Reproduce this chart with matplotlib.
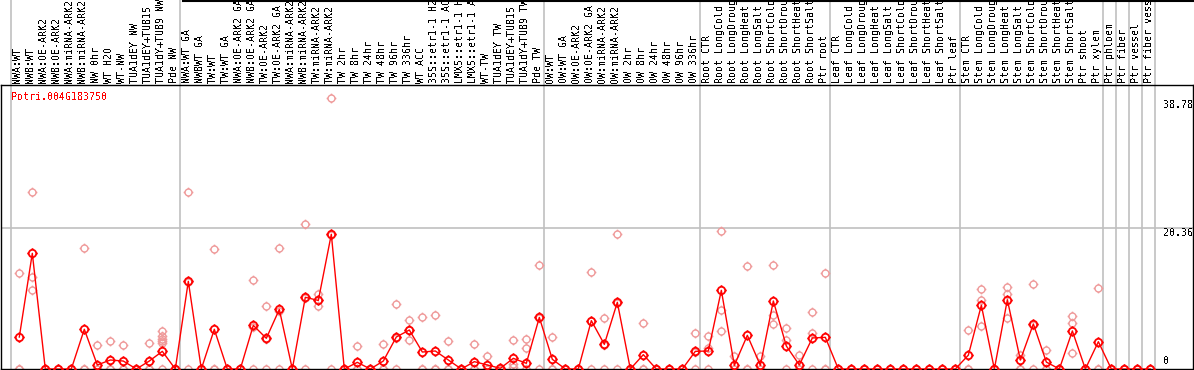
import numpy as np
import matplotlib
matplotlib.use("Agg")
import matplotlib.pyplot as plt
from matplotlib.path import Path
import matplotlib.transforms as mtransforms

plt.rcParams['font.family'] = ['DejaVu Sans Mono']
plt.rcParams['text.antialiased'] = False

gene = "Potri.004G183750"

labels = ["NWA:WT", "NWB:WT", "NWA:OE-ARK2", "NWB:OE-ARK2", "NWA:miRNA-ARK2", "NWB:miRNA-ARK2",
          "NW 0hr", "WT H2O", "WT-NW", "TUA1dEY NW", "TUA1dEY+TUB15", "TUA1dY+TUB9 NW", "Pde NW",
          "NWA:WT GA", "NWBWT GA", "TW:WT", "TW:WT GA", "NWA:OE-ARK2 GA", "NWB:OE-ARK2 GA",
          "TW:OE-ARK2", "TW:OE-ARK2 GA", "NWA:miRNA-ARK2", "NWB:miRNA-ARK2", "TW:miRNA-ARK2",
          "TW:miRNA-ARK2", "TW 2hr", "TW 8hr", "TW 24hr", "TW 48hr", "TW 96hr", "TW 336hr",
          "WT ACC", "35S::etr1-1 H2", "35S::etr1-1 AC", "LMX5::etr1-1 H", "LMX5::etr1-1 A",
          "WT-TW", "TUA1dEY TW", "TUA1dEY+TUB15", "TUA1dY+TUB9 TW", "Pde TW",
          "OW:WT", "OW:WT GA", "OW:OE-ARK2", "OW:OE-ARK2 GA", "OW:miRNA-ARK2", "OW:miRNA-ARK2",
          "OW 2hr", "OW 8hr", "OW 24hr", "OW 48hr", "OW 96hr", "OW 336hr",
          "Root CTR", "Root LongCold", "Root LongDroug", "Root LongHeat", "Root LongSalt",
          "Root ShortCold", "Root ShortDrou", "Root ShortHeat", "Root ShortSalt", "Ptr root",
          "Leaf CTR", "Leaf LongCold", "Leaf LongDroug", "Leaf LongHeat", "Leaf LongSalt",
          "Leaf ShortCold", "Leaf ShortDrou", "Leaf ShortHeat", "Leaf ShortSalt", "Ptr leaf",
          "Stem CTR", "Stem LongCold", "Stem LongDroug", "Stem LongHeat", "Stem LongSalt",
          "Stem ShortCold", "Stem ShortDrou", "Stem ShortHeat", "Stem ShortSalt", "Ptr shoot",
          "Ptr xylem", "Ptr phloem", "Ptr fiber", "Ptr vessel", "Ptr fiber vess"]

# mean expression per sample
means = [4.62, 16.7, 0, 0, 0, 5.73, 0.58, 1.3, 1.15, 0, 1.15, 2.55, 0,
         12.66, 0, 5.73, 0, 0, 6.3, 4.43, 8.6, 0, 10.35, 9.9, 19.45, 0, 0.96, 0,
         1.15, 4.62, 5.63, 2.45, 2.6, 1.3, 0, 1.06, 0.58, 0.1, 1.54, 0.82, 7.45,
         1.4, 0, 0, 6.98, 3.56, 9.63, 0, 2.07, 0, 0, 0, 2.55,
         2.6, 11.36, 0.53, 4.86, 0.53, 9.82, 3.32, 0.58, 4.48, 4.57,
         0, 0, 0, 0, 0, 0, 0, 0, 0, 0,
         2.0, 9.2, 0, 10.0, 1.3, 6.5, 1.0, 0, 5.5, 0,
         3.94, 0, 0, 0, 0]

# replicate values per sample
reps = [[13.8, 0, 0], [25.5, 13.3, 11.4], [0, 0, 0], [0, 0, 0], [0, 0, 0], [17.4, 0, 0],
        [3.4, 0, 0], [4.04, 0, 0], [3.4, 0, 0], [0, 0, 0], [3.7, 0, 0],
        [5.5, 4.8, 4.4, 4.0, 3.7, 0], [0, 0, 0],
        [25.5, 12.5, 0], [0, 0, 0], [17.3, 0, 0], [0, 0, 0], [0, 0, 0], [12.8, 6.0, 0],
        [9.05, 4.3, 0], [17.4, 8.4, 0], [0, 0, 0], [20.9, 10.2, 0], [10.8, 9.05, 9.9],
        [39.1, 19.3, 0], [0, 0, 0], [3.27, 0, 0], [0, 0, 0], [3.56, 0, 0], [9.4, 4.5, 0],
        [7.07, 4.19, 5.6], [7.45, 0, 0], [7.75, 0, 0], [4.04, 0, 0], [0, 0, 0], [3.56, 0, 0],
        [1.83, 0, 0], [0, 0, 0], [4.19, 0.67, 0.3], [4.29, 2.99, 0], [14.97, 7.4, 0],
        [4.62, 0, 0], [0, 0, 0], [0, 0, 0], [13.96, 7.0, 0], [7.3, 3.4, 0], [19.45, 9.5, 0],
        [0, 0, 0], [6.6, 0, 0], [0, 0, 0], [0, 0, 0], [0, 0, 0], [5.15, 2.5, 0],
        [4.72, 3.08, 0], [19.88, 8.47, 5.49], [1.88, 0, 0], [14.8, 0, 0], [1.88, 0, 0],
        [15.0, 7.75, 6.5], [5.87, 4.14, 0], [1.97, 0, 0], [8.18, 5.2, 0], [13.8, 0, 0],
        [0, 0, 0], [0, 0, 0], [0, 0, 0], [0, 0, 0], [0, 0, 0],
        [0, 0, 0], [0, 0, 0], [0, 0, 0], [0, 0, 0], [0, 0, 0],
        [5.6, 0, 0], [11.5, 10.0, 6.2], [0, 0, 0], [11.8, 10.8, 7.3], [2.0, 0, 0],
        [12.2, 6.4, 0], [2.7, 0, 0], [0, 0, 0], [7.6, 6.6, 2.3], [0, 0, 0],
        [11.65, 0, 0], [0, 0, 0], [0, 0, 0], [0, 0, 0], [0, 0, 0]]

group_starts = [0, 13, 41, 53, 63, 73, 84, 85, 86, 87, 88]
yticks = [38.78, 20.36]

# circle marker with small ticks
circ = Path.unit_circle()
verts = list(circ.vertices) + [(0, 1), (0, 1.4), (0, -1), (0, -1.4), (1, 0), (1.4, 0), (-1, 0), (-1.4, 0)]
codes = list(circ.codes) + [Path.MOVETO, Path.LINETO] * 4
mk = Path(verts, codes)

fig = plt.figure(figsize=(11.94, 3.70), dpi=100)
ax = fig.add_axes([1 / 1194, 1 / 370, 1192 / 1194, 284 / 370])
x = np.arange(len(means))

ax.set_xlim(-1.408, 90.28)
ax.set_ylim(0, 41.0)
ax.set_xticks([])
ax.set_yticks([])
for s in ax.spines.values():
    s.set_color("black")
    s.set_linewidth(1)

ax.axhline(yticks[1], color="#c0c0c0", lw=1.2, zorder=1)
trans = mtransforms.blended_transform_factory(ax.transData, ax.transAxes)
for g in group_starts:
    ax.plot([g - 0.62, g - 0.62], [0, 1.3], color="#c0c0c0", lw=1.2, transform=trans,
            clip_on=False, zorder=1)

for i, r in enumerate(reps):
    ax.plot([i] * len(r), r, linestyle="none", marker=mk, markersize=7,
            markerfacecolor="none", markeredgecolor="#ef9a9a", markeredgewidth=1, zorder=2)

ax.plot(x, means, color="red", lw=1, marker=mk, markersize=7.5,
        markerfacecolor="none", markeredgecolor="red", markeredgewidth=1.3, zorder=3)

for i, lab in enumerate(labels):
    ax.text(i - 0.13, 1.007, lab, transform=trans, rotation=90, ha="center", va="bottom",
            fontsize=7.2, color="black", clip_on=False)

ax.text(0.008, 0.975, gene, transform=ax.transAxes, color="red", fontsize=7.2,
        ha="left", va="top")
ax.text(88.0, yticks[0], "%.2f" % yticks[0], ha="left", va="top", fontsize=7.2)
ax.text(88.0, yticks[1], "%.2f" % yticks[1], ha="left", va="top", fontsize=7.2)
ax.text(88.0, 0.45, "0", ha="left", va="bottom", fontsize=7.2)

fig.add_artist(plt.Line2D([183 / 1194, 1], [1 - 0.5 / 370, 1 - 0.5 / 370], color="black", lw=1.5))

fig.savefig("out.png", dpi=100)
